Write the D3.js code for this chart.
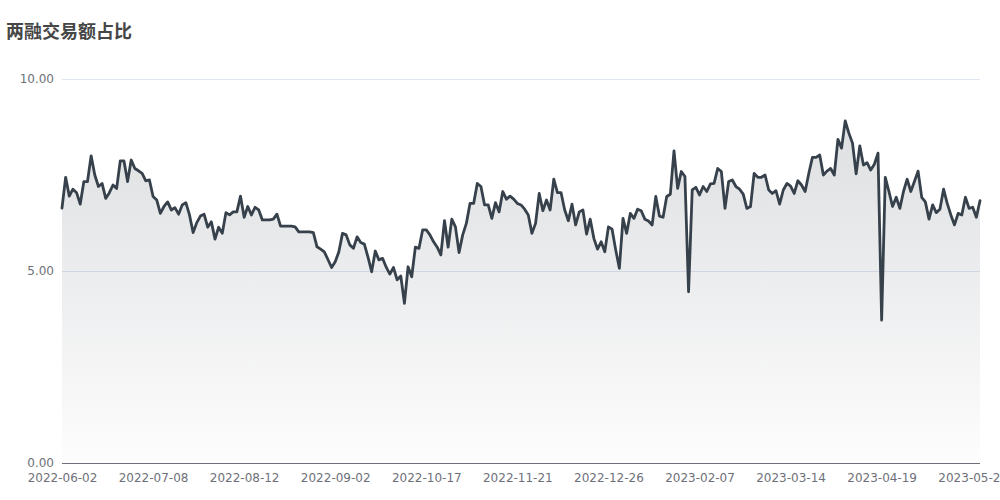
<!DOCTYPE html>
<html>
<head>
<meta charset="utf-8">
<script src="https://cdn.jsdelivr.net/npm/d3@7"></script>
<style>
  html, body { margin: 0; padding: 0; background: #fff; }
  svg { display: block; }
</style>
</head>
<body>
<svg id="chart" width="1000" height="500"></svg>
<script>
const title = "两融交易额占比";
const xTickLabels = ["2022-06-02","2022-07-08","2022-08-12","2022-09-02","2022-10-17","2022-11-21","2022-12-26","2023-02-07","2023-03-14","2023-04-19","2023-05-29"];
const xTickStep = 25;
const yTicks = [0, 5, 10];
const values = [
6.64,7.44,6.95,7.13,7.04,6.74,7.33,7.33,8.0,7.5,
7.2,7.28,6.89,7.04,7.24,7.15,7.87,7.87,7.33,7.89,
7.67,7.61,7.54,7.35,7.37,6.94,6.85,6.5,6.68,6.8,
6.59,6.65,6.48,6.72,6.78,6.46,6.0,6.26,6.43,6.48,
6.14,6.28,5.83,6.14,5.98,6.52,6.46,6.54,6.54,6.95,
6.4,6.68,6.46,6.66,6.59,6.33,6.33,6.33,6.35,6.48,
6.17,6.17,6.17,6.17,6.15,6.02,6.02,6.02,6.02,6.0,
5.63,5.57,5.5,5.3,5.09,5.24,5.5,5.98,5.94,5.68,
5.59,5.89,5.74,5.7,5.36,4.98,5.52,5.29,5.33,5.1,
4.92,5.09,4.77,4.87,4.16,5.11,4.85,5.62,5.59,6.07,
6.07,5.94,5.76,5.62,5.42,6.31,5.62,6.35,6.15,5.48,
5.94,6.24,6.76,6.76,7.28,7.2,6.72,6.72,6.37,6.78,
6.54,7.07,6.87,6.95,6.87,6.76,6.72,6.61,6.46,5.98,
6.24,7.02,6.57,6.85,6.59,7.39,7.04,7.04,6.59,6.31,
6.74,6.2,6.54,6.59,5.96,6.35,5.85,5.57,5.76,5.5,
6.15,6.09,5.55,5.07,6.37,5.98,6.5,6.37,6.61,6.57,
6.35,6.3,6.2,6.94,6.43,6.4,6.94,7.0,8.13,7.15,
7.59,7.46,4.46,7.11,7.18,6.98,7.2,7.07,7.27,7.28,
7.67,7.59,6.63,7.33,7.37,7.2,7.13,7.0,6.63,6.68,
7.54,7.44,7.44,7.5,7.11,7.02,7.09,6.74,7.11,7.28,
7.21,7.02,7.35,7.24,7.07,7.54,7.96,7.96,8.02,7.5,
7.6,7.67,7.5,8.43,8.2,8.91,8.59,8.33,7.53,8.26,
7.76,7.82,7.63,7.78,8.07,3.72,7.44,7.07,6.68,6.92,
6.63,7.07,7.39,7.07,7.33,7.6,6.92,6.8,6.35,6.72,
6.52,6.61,7.13,6.76,6.46,6.2,6.5,6.46,6.92,6.63,
6.66,6.4,6.83
];

const svg = d3.select("#chart");
const margin = { left: 62, right: 20, top: 79, bottom: 37 };
const W = 1000, H = 500;
const x0 = margin.left, x1 = W - margin.right;
const y0 = H - margin.bottom, y1 = margin.top;

const x = d3.scaleLinear().domain([0, values.length - 1]).range([x0, x1]);
const y = d3.scaleLinear().domain([0, 10]).range([y0, y1]);

// title
svg.append("text")
  .attr("x", 6).attr("y", 38)
  .attr("font-family", "'Noto Sans CJK SC', sans-serif")
  .attr("font-size", 18).attr("font-weight", "bold")
  .attr("fill", "#464646")
  .text(title);

// grid lines
svg.append("g").selectAll("line").data(yTicks.filter(d => d !== 0)).join("line")
  .attr("x1", x0).attr("x2", x1)
  .attr("y1", d => y(d) + 0.5).attr("y2", d => y(d) + 0.5)
  .attr("stroke", "#E0E6F1").attr("stroke-width", 1);

// gradient
const defs = svg.append("defs");
const grad = defs.append("linearGradient").attr("id", "areaGrad")
  .attr("gradientUnits", "userSpaceOnUse")
  .attr("x1", 0).attr("x2", 0)
  .attr("y1", y(d3.max(values))).attr("y2", y0);
grad.append("stop").attr("offset", "0%").attr("stop-color", "#3c4450").attr("stop-opacity", 0.17);
grad.append("stop").attr("offset", "100%").attr("stop-color", "#3c4450").attr("stop-opacity", 0.01);

const area = d3.area().x((d, i) => x(i)).y0(y0).y1(d => y(d));
svg.append("path").datum(values).attr("d", area).attr("fill", "url(#areaGrad)");

const line = d3.line().x((d, i) => x(i)).y(d => y(d));
svg.append("path").datum(values).attr("d", line)
  .attr("fill", "none").attr("stroke", "#37414b")
  .attr("stroke-width", 2.8).attr("stroke-linejoin", "round").attr("stroke-linecap", "round");

// y axis labels
const yAxis = d3.axisLeft(y).tickValues(yTicks).tickFormat(d3.format(".2f")).tickSize(0).tickPadding(8);
const gy = svg.append("g").attr("transform", `translate(${x0},0)`).call(yAxis);
gy.select(".domain").remove();
gy.selectAll("text").attr("fill", "#6E7079").attr("font-size", 12)
  .attr("font-family", "'DejaVu Sans', sans-serif");

// x axis
const xTickIdx = xTickLabels.map((d, i) => i * xTickStep);
const xAxis = d3.axisBottom(x).tickValues(xTickIdx)
  .tickFormat((d, i) => xTickLabels[i]).tickSize(0).tickPadding(10);
const gx = svg.append("g").attr("transform", `translate(0,${y0 + 0.5})`).call(xAxis);
gx.select(".domain").attr("stroke", "#6E7079").attr("d", `M${x0},0H${x1}`);
gx.selectAll("text").attr("fill", "#6E7079").attr("font-size", 12)
  .attr("font-family", "'DejaVu Sans', sans-serif");
</script>
</body>
</html>
